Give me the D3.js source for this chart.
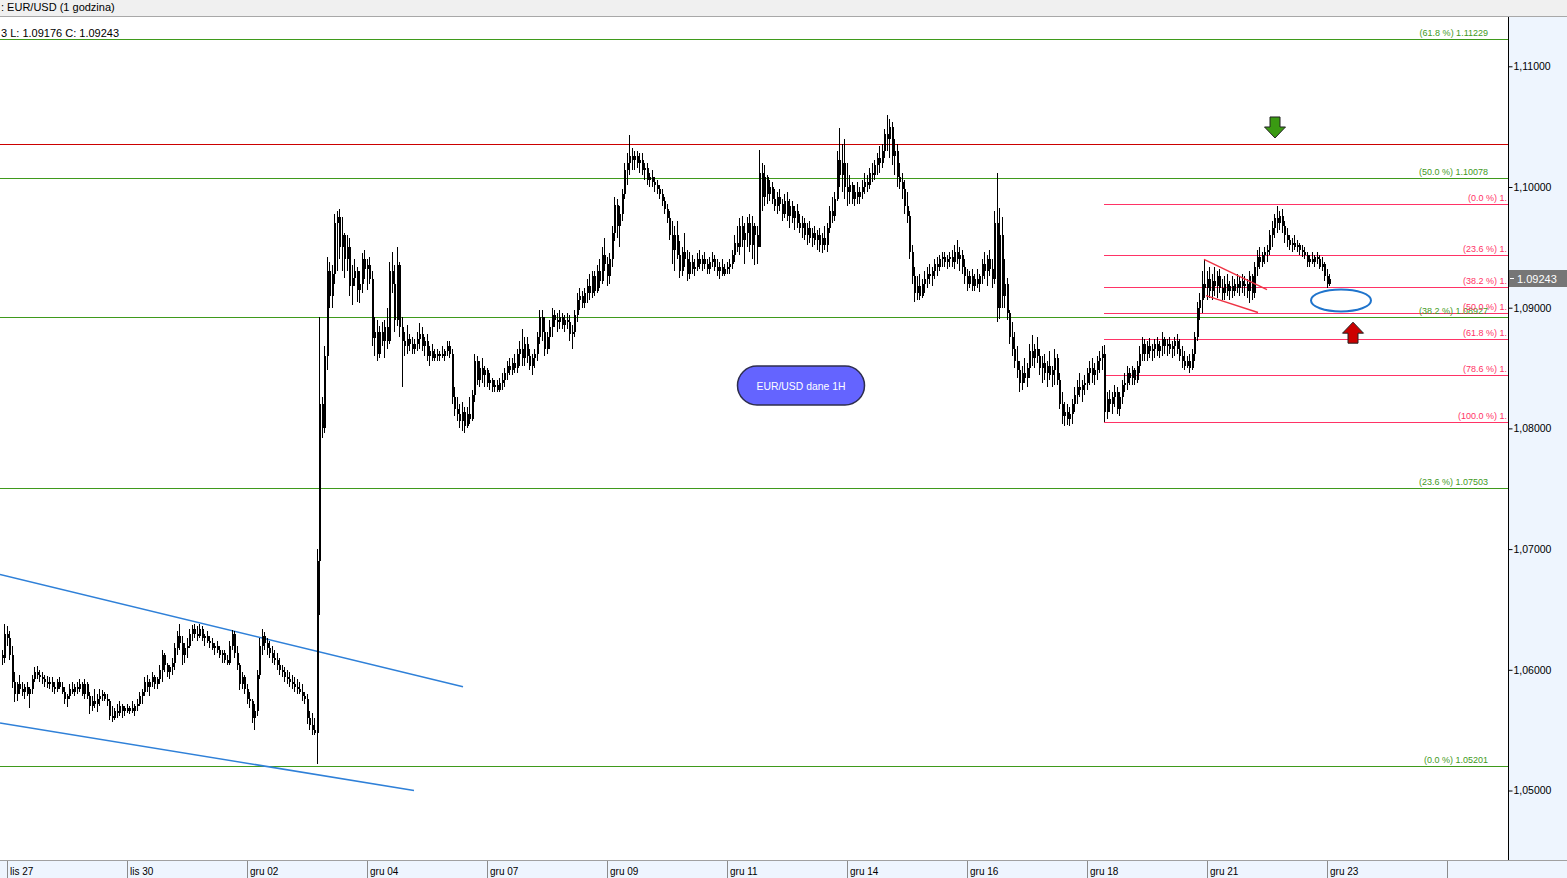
<!DOCTYPE html>
<html><head><meta charset="utf-8">
<script src="https://cdn.jsdelivr.net/npm/d3@7"></script>
<style>
body{margin:0;background:#fff;overflow:hidden}
svg{display:block;font-family:"Liberation Sans",Arial,sans-serif}
</style>
</head><body>
<svg id="c" width="1567" height="878"></svg>
<script>
// ---------- DATA (prices in 1/10000) ----------
const firstOpen = 10612;
const highs = [
10616,10638,10636,10632,10620,10598,10590,10596,10590,10588,
10590,10586,10596,10602,10603,10600,10598,10596,10595,10594,
10594,10590,10592,10594,10590,10586,10580,10588,10590,10588,
10590,10592,10590,10592,10590,10582,10578,10584,10580,10584,
10583,10582,10580,10576,10570,10568,10572,10574,10572,10570,
10572,10570,10574,10572,10576,10582,10584,10594,10596,10592,
10598,10596,10594,10604,10616,10614,10606,10604,10610,10622,
10632,10638,10628,10622,10626,10634,10637,10638,10636,10638,
10636,10630,10632,10628,10626,10622,10624,10620,10616,10616,
10612,10624,10633,10632,10620,10606,10598,10596,10588,10582,
10576,10572,10600,10626,10634,10631,10626,10624,10620,10616,
10614,10610,10604,10602,10600,10598,10596,10594,10592,10590,
10588,10582,10580,10566,10564,10560,10700,10892,10826,10868,
10942,10938,10935,10978,10980,10982,10975,10962,10960,10958,
10935,10940,10934,10930,10945,10948,10940,10942,10930,10892,
10890,10885,10888,10890,10900,10938,10946,10935,10950,10938,
10892,10880,10886,10878,10876,10874,10880,10887,10884,10876,
10878,10868,10870,10866,10866,10864,10868,10866,10872,10872,
10866,10834,10826,10820,10822,10818,10818,10826,10832,10862,
10860,10856,10858,10852,10850,10846,10842,10840,10840,10842,
10846,10850,10856,10858,10858,10862,10866,10872,10882,10876,
10876,10866,10862,10866,10880,10898,10898,10892,10880,10890,
10900,10898,10896,10898,10896,10894,10896,10894,10886,10898,
10912,10916,10914,10916,10924,10928,10930,10930,10935,10940,
10950,10958,10942,10945,10968,10992,10990,10984,10998,11020,
11028,11043,11032,11030,11030,11028,11028,11020,11020,11012,
11014,11008,11006,11002,10998,10992,10986,10980,10972,10968,
10972,10955,10950,10962,10948,10946,10944,10940,10945,10948,
10944,10946,10940,10942,10946,10944,10940,10938,10940,10936,
10938,10940,10948,10960,10968,10974,10976,10970,10975,10978,
10976,10970,10968,11031,11020,11018,11010,11006,11004,10998,
10996,10998,10990,10994,10996,10990,10988,10984,10986,10978,
10976,10974,10970,10972,10966,10968,10964,10966,10962,10968,
10970,10984,10992,10996,11030,11049,11036,11040,11020,11010,
11004,11002,11004,11000,11006,11012,11010,11016,11020,11022,
11028,11034,11036,11048,11060,11056,11054,11040,11036,11020,
11012,11006,10996,10980,10952,10934,10926,10928,10924,10930,
10934,10936,10934,10940,10942,10944,10946,10946,10944,10946,
10948,10952,10956,10950,10948,10940,10932,10930,10932,10928,
10932,10928,10940,10946,10944,10948,10940,10980,11012,10983,
10975,10940,10925,10898,10888,10880,10868,10856,10852,10858,
10854,10870,10877,10870,10876,10866,10860,10862,10856,10864,
10852,10866,10862,10846,10830,10822,10820,10818,10824,10834,
10840,10846,10840,10844,10850,10856,10858,10854,10860,10864,
10868,10869,10830,10832,10830,10836,10834,10830,10840,10846,
10852,10850,10852,10850,10856,10868,10876,10874,10872,10875,
10870,10874,10876,10872,10880,10876,10874,10876,10872,10876,
10878,10874,10868,10864,10860,10862,10866,10880,10905,10912,
10930,10940,10930,10934,10928,10934,10930,10932,10924,10926,
10928,10922,10926,10924,10928,10926,10928,10926,10924,10930,
10928,10938,10948,10950,10946,10950,10952,10964,10972,10978,
10984,10980,10982,10972,10966,10960,10958,10960,10956,10954,
10952,10950,10946,10944,10946,10944,10946,10944,10942,10938,
10932,10928];
const lows = [
10604,10606,10620,10608,10585,10573,10574,10580,10578,10576,
10578,10568,10580,10590,10592,10590,10588,10586,10585,10584,
10582,10580,10582,10584,10580,10572,10569,10576,10580,10578,
10580,10582,10578,10576,10576,10563,10566,10568,10565,10570,
10574,10574,10570,10558,10557,10558,10560,10562,10560,10562,
10564,10563,10564,10562,10566,10570,10572,10578,10582,10578,
10586,10584,10584,10588,10590,10598,10594,10592,10596,10600,
10612,10616,10604,10606,10610,10618,10624,10626,10624,10626,
10624,10620,10622,10618,10616,10612,10614,10610,10606,10606,
10604,10604,10616,10610,10600,10583,10584,10580,10572,10568,
10556,10550,10562,10592,10612,10616,10612,10610,10606,10604,
10600,10596,10594,10590,10588,10586,10584,10582,10580,10580,
10574,10572,10555,10550,10546,10546,10522,10645,10792,10796,
10848,10900,10900,10920,10930,10940,10930,10925,10930,10910,
10902,10918,10905,10904,10912,10924,10915,10920,10868,10860,
10856,10858,10868,10858,10866,10870,10912,10880,10885,10876,
10834,10860,10862,10864,10862,10862,10864,10866,10864,10860,
10856,10852,10856,10856,10856,10856,10858,10856,10860,10858,
10820,10810,10806,10800,10798,10796,10800,10804,10806,10822,
10836,10834,10838,10834,10834,10832,10830,10830,10830,10830,
10832,10834,10840,10844,10844,10846,10846,10852,10852,10852,
10854,10848,10844,10850,10856,10870,10872,10860,10862,10866,
10876,10884,10880,10882,10882,10880,10882,10872,10866,10876,
10888,10898,10900,10900,10904,10906,10908,10910,10912,10916,
10920,10930,10918,10920,10934,10955,10958,10950,10972,10990,
11002,11010,11014,11014,11016,11012,11010,11006,11002,11000,
11000,10996,10994,10990,10984,10978,10970,10956,10936,10930,
10940,10925,10926,10934,10922,10924,10928,10926,10930,10932,
10930,10932,10928,10928,10934,10930,10926,10924,10926,10926,
10928,10928,10932,10938,10946,10944,10950,10936,10950,10946,
10940,10935,10936,10950,10980,10984,10986,10988,10986,10980,
10978,10980,10972,10974,10972,10966,10970,10964,10966,10962,
10958,10956,10952,10954,10950,10952,10948,10946,10945,10948,
10946,10962,10970,10972,10988,11000,10996,10990,10984,10986,
10986,10984,10986,10986,10990,10994,10996,10998,11004,11006,
11010,11012,11016,11024,11030,11024,11018,11010,11000,10998,
10990,10978,10970,10940,10920,10905,10906,10906,10908,10912,
10916,10920,10918,10924,10926,10930,10934,10934,10932,10934,
10934,10932,10936,10930,10928,10920,10914,10916,10914,10914,
10916,10913,10920,10924,10918,10926,10916,10920,10888,10891,
10900,10900,10890,10870,10860,10850,10842,10830,10832,10838,
10834,10842,10852,10850,10854,10844,10838,10840,10834,10840,
10834,10836,10836,10816,10804,10802,10803,10802,10804,10814,
10820,10826,10822,10828,10832,10836,10838,10836,10840,10846,
10848,10805,10808,10814,10812,10818,10812,10810,10820,10830,
10832,10836,10836,10836,10838,10846,10856,10856,10856,10858,
10856,10858,10860,10858,10860,10862,10860,10862,10858,10860,
10862,10856,10850,10848,10850,10846,10848,10856,10872,10890,
10896,10908,10906,10908,10906,10910,10908,10912,10906,10906,
10910,10906,10908,10910,10912,10910,10912,10910,10908,10904,
10906,10908,10926,10932,10934,10936,10938,10944,10950,10958,
10962,10964,10962,10954,10950,10948,10946,10948,10946,10944,
10942,10940,10934,10934,10936,10934,10936,10932,10930,10922,
10916,10918];
const closes = [
10610,10630,10626,10612,10590,10580,10588,10584,10582,10586,
10580,10584,10592,10598,10596,10594,10592,10590,10588,10590,
10586,10584,10590,10586,10582,10576,10578,10584,10582,10586,
10584,10588,10580,10588,10578,10570,10574,10572,10576,10578,
10580,10576,10574,10562,10560,10566,10564,10570,10566,10568,
10566,10568,10566,10570,10572,10578,10582,10590,10586,10590,
10594,10588,10592,10600,10612,10604,10598,10602,10606,10618,
10628,10622,10612,10618,10620,10630,10634,10630,10628,10634,
10626,10628,10624,10622,10618,10620,10616,10612,10614,10608,
10606,10620,10630,10614,10604,10588,10594,10584,10576,10574,
10560,10566,10596,10620,10628,10622,10618,10614,10610,10608,
10604,10600,10598,10594,10592,10590,10588,10586,10584,10582,
10578,10576,10560,10554,10550,10548,10690,10820,10800,10860,
10930,10910,10928,10970,10975,10950,10960,10940,10950,10918,
10925,10930,10915,10920,10940,10932,10935,10924,10875,10880,
10862,10880,10872,10884,10872,10930,10920,10890,10935,10884,
10872,10868,10874,10870,10866,10870,10874,10878,10868,10872,
10860,10864,10858,10862,10860,10862,10860,10864,10868,10862,
10826,10816,10812,10806,10814,10802,10812,10808,10828,10856,
10840,10850,10844,10848,10838,10840,10834,10836,10832,10838,
10840,10846,10852,10848,10854,10850,10862,10866,10858,10870,
10860,10852,10858,10862,10876,10892,10880,10866,10876,10884,
10894,10890,10888,10892,10886,10890,10888,10878,10880,10894,
10906,10910,10904,10912,10918,10912,10926,10914,10930,10922,
10944,10936,10926,10940,10962,10985,10968,10978,10994,11014,
11020,11026,11022,11026,11020,11022,11014,11016,11006,11008,
11004,11002,10998,10994,10988,10982,10974,10960,10948,10960,
10944,10930,10946,10940,10928,10938,10932,10934,10940,10936,
10940,10936,10932,10938,10940,10934,10930,10934,10928,10932,
10934,10936,10944,10954,10950,10968,10956,10962,10970,10952,
10968,10960,10950,11012,10992,11008,10994,11000,10990,10984,
10992,10986,10978,10988,10976,10984,10974,10980,10970,10966,
10970,10960,10966,10958,10962,10956,10960,10952,10958,10952,
10966,10980,10976,10990,11022,11010,11020,11000,10996,11002,
10990,10996,10992,10996,11000,11004,11002,11012,11010,11018,
11024,11020,11030,11044,11040,11050,11026,11030,11008,11004,
10998,10984,10976,10946,10926,10912,10918,10910,10920,10924,
10928,10926,10930,10936,10934,10940,10942,10938,10940,10942,
10938,10946,10940,10944,10934,10926,10920,10926,10918,10924,
10920,10926,10936,10930,10940,10932,10924,10970,10900,10960,
10910,10920,10896,10876,10866,10856,10848,10838,10846,10842,
10850,10864,10858,10866,10860,10850,10854,10846,10852,10844,
10848,10858,10840,10820,10810,10814,10808,10812,10820,10828,
10834,10832,10836,10838,10846,10850,10844,10848,10856,10858,
10862,10814,10824,10820,10826,10830,10816,10826,10836,10838,
10846,10842,10848,10840,10852,10862,10870,10862,10868,10864,
10866,10870,10864,10868,10874,10868,10870,10866,10868,10872,
10866,10860,10856,10852,10856,10850,10862,10876,10900,10906,
10920,10916,10924,10914,10922,10918,10926,10916,10912,10920,
10914,10918,10914,10920,10916,10922,10918,10920,10914,10926,
10912,10934,10942,10938,10944,10946,10948,10960,10966,10974,
10970,10976,10968,10960,10956,10952,10954,10950,10952,10948,
10946,10944,10938,10940,10938,10942,10940,10934,10936,10926,
10920,10924];

const yTickValues = [1.05, 1.06, 1.07, 1.08, 1.09, 1.10, 1.11];
const dateTickIdx = [2, 50, 98, 146, 194, 242, 290, 338, 386, 434, 482, 530, 578];
const dateLabels = ["lis 27","lis 30","gru 02","gru 04","gru 07","gru 09","gru 11","gru 14","gru 16","gru 18","gru 21","gru 23",""];

const greenFibPct  = ["61.8","50.0","38.2","23.6","0.0"];
const greenFibVals = [1.11229, 1.10078, 1.08927, 1.07503, 1.05201];
const pinkFibPct   = ["0.0","23.6","38.2","50.0","61.8","78.6","100.0"];
const pinkFibVals  = [1.09859, 1.09433, 1.09169, 1.08956, 1.08743, 1.08439, 1.08053];
const pinkFibStartIdx = 441;
const resistance = 1.10356;
const lastPrice = 1.09243;
// trend lines: [idx1, price1, idx2, price2]
const channelUpper = [-0.6, 1.0679, 184.6, 1.0586];
const channelLower = [-0.6, 1.0556, 165.0, 1.0500];
const wedgeUpper = [481.0, 1.0940, 506.2, 1.0915];
const wedgeLower = [481.8, 1.0910, 502.6, 1.0896];
const ellipsePos = [535.8, 1.0906];
const greenArrowPos = [509.4, 1.1058];
const redArrowPos = [540.6, 1.0888];
const noteBoxPos = [319.8, 1.08355];
const noteText = "EUR/USD dane 1H";
const headerTitle = ": EUR/USD (1 godzina)";
const headerOHLC = "3 L: 1.09176 C: 1.09243";

// ---------- LAYOUT ----------
const W = 1567, H = 878;
const plotRight = 1508, plotTop = 17, plotBottom = 860;
const svg = d3.select("#c");

const n = Math.min(highs.length, lows.length, closes.length);
const bars = d3.range(n).map(i => ({
  i, h: highs[i] / 1e4, l: lows[i] / 1e4, c: closes[i] / 1e4,
  o: (i === 0 ? firstOpen : closes[i - 1]) / 1e4
}));

const x = d3.scaleLinear().domain([0, 1]).range([1.5, 4]);
const y = d3.scaleLinear().domain([1.05, 1.11]).range([790.5, 66.3]);

// backgrounds
svg.append("rect").attr("width", W).attr("height", H).attr("fill", "#fff");
svg.append("rect").attr("x", 0).attr("y", 0).attr("width", W).attr("height", 16).attr("fill", "#f0f0f0");
svg.append("line").attr("x1", 0).attr("x2", W).attr("y1", 16.5).attr("y2", 16.5).attr("stroke", "#a8a8a8");
svg.append("text").attr("x", 1).attr("y", 11).attr("font-size", 11).attr("fill", "#000").text(headerTitle);

svg.append("rect").attr("x", plotRight).attr("y", 17).attr("width", W - plotRight).attr("height", plotBottom - 17).attr("fill", "#eef5fe");
svg.append("rect").attr("x", 0).attr("y", plotBottom).attr("width", W).attr("height", H - plotBottom).attr("fill", "#eef5fe");

const defs = svg.append("defs");
defs.append("clipPath").attr("id", "plotClip").append("rect")
  .attr("x", 0).attr("y", plotTop).attr("width", plotRight).attr("height", plotBottom - plotTop);

const plot = svg.append("g").attr("clip-path", "url(#plotClip)");

svg.append("text").attr("x", 1).attr("y", 37).attr("font-size", 11)
  .attr("fill", "#000").text(headerOHLC);

// green fib lines
const greenCol = "#3f9a1c";
greenFibVals.forEach((v, k) => {
  plot.append("line").attr("x1", 0).attr("x2", plotRight)
    .attr("y1", Math.round(y(v)) + 0.5).attr("y2", Math.round(y(v)) + 0.5)
    .attr("stroke", greenCol).attr("stroke-width", 1).attr("shape-rendering", "crispEdges");
});
// resistance
plot.append("line").attr("x1", 0).attr("x2", plotRight)
  .attr("y1", Math.round(y(resistance)) + 0.5).attr("y2", Math.round(y(resistance)) + 0.5)
  .attr("stroke", "#cc0000").attr("shape-rendering", "crispEdges");

// pink fib lines
const pinkCol = "#ff3366";
pinkFibVals.forEach(v => {
  plot.append("line").attr("x1", x(pinkFibStartIdx)).attr("x2", plotRight)
    .attr("y1", Math.round(y(v)) + 0.5).attr("y2", Math.round(y(v)) + 0.5)
    .attr("stroke", pinkCol).attr("stroke-width", 1).attr("shape-rendering", "crispEdges");
});

// channel lines
[channelUpper, channelLower].forEach(s => {
  plot.append("line").attr("x1", x(s[0])).attr("y1", y(s[1])).attr("x2", x(s[2])).attr("y2", y(s[3]))
    .attr("stroke", "#2f80d8").attr("stroke-width", 1.5);
});

// candles
const cg = plot.append("g").attr("shape-rendering", "crispEdges");
bars.forEach(b => {
  const px = Math.round(x(b.i));
  cg.append("line").attr("x1", px + 0.5).attr("x2", px + 0.5)
    .attr("y1", y(b.h)).attr("y2", y(b.l)).attr("stroke", "#000").attr("stroke-width", 1);
  const top = y(Math.max(b.o, b.c)), bot = y(Math.min(b.o, b.c));
  cg.append("rect").attr("x", px).attr("width", 2)
    .attr("y", top).attr("height", Math.max(1, bot - top)).attr("fill", "#000");
});

// wedge lines
[wedgeUpper, wedgeLower].forEach(s => {
  plot.append("line").attr("x1", x(s[0])).attr("y1", y(s[1])).attr("x2", x(s[2])).attr("y2", y(s[3]))
    .attr("stroke", "#ee3344").attr("stroke-width", 1.4);
});

// ellipse
plot.append("ellipse").attr("cx", x(ellipsePos[0])).attr("cy", y(ellipsePos[1]))
  .attr("rx", 30).attr("ry", 11).attr("fill", "none").attr("stroke", "#1f74cc").attr("stroke-width", 2);

// arrows
function arrow(cx, tip, dir, fill) {
  const hh = 11, sh = 10, hw = 10.5, sw = 5;
  const base = tip - dir * hh, end = tip - dir * (hh + sh);
  const pts = [[cx, tip], [cx + hw, base], [cx + sw, base], [cx + sw, end], [cx - sw, end], [cx - sw, base], [cx - hw, base]];
  plot.append("path").attr("d", "M" + pts.map(p => p.join(",")).join("L") + "Z")
    .attr("fill", fill).attr("stroke", "#222").attr("stroke-width", 1);
}
arrow(x(greenArrowPos[0]), y(greenArrowPos[1]) + 21, 1, "#3a9a12");
arrow(x(redArrowPos[0]), y(redArrowPos[1]), -1, "#cc0000");

// note box
const nbx = x(noteBoxPos[0]), nby = y(noteBoxPos[1]);
plot.append("rect").attr("x", nbx - 63.5).attr("y", nby - 19.5).attr("width", 127).attr("height", 39)
  .attr("rx", 19.5).attr("fill", "#6464ff").attr("stroke", "#2e2e4e").attr("stroke-width", 1.5);
plot.append("text").attr("x", nbx).attr("y", nby + 4).attr("text-anchor", "middle")
  .attr("font-size", 10.4).attr("fill", "#fff").text(noteText);

// fib labels (pink ones are shown truncated at the price axis, as in the source)
const lg = svg.append("g").attr("font-size", 9);
greenFibVals.forEach((v, k) => {
  lg.append("text").attr("x", 1488).attr("y", Math.round(y(v)) - 3).attr("text-anchor", "end")
    .attr("fill", greenCol).text("(" + greenFibPct[k] + " %) " + v.toFixed(5));
});
pinkFibVals.forEach((v, k) => {
  lg.append("text").attr("x", 1507).attr("y", Math.round(y(v)) - 3).attr("text-anchor", "end")
    .attr("fill", pinkCol).text("(" + pinkFibPct[k] + " %) " + v.toFixed(5).slice(0, 2));
});

// right axis
const fmt = d3.format(".5f");
const yAxis = d3.axisRight(y).tickValues(yTickValues).tickSize(4).tickPadding(1)
  .tickFormat(d => fmt(d).replace(".", ","));
const ya = svg.append("g").attr("transform", `translate(${plotRight + 0.5},0)`).call(yAxis);
ya.select(".domain").remove();
ya.selectAll("text").attr("font-size", 10.5).attr("fill", "#000")
  .attr("font-family", '"Liberation Sans",Arial,sans-serif');
ya.selectAll("line").attr("stroke", "#000");
svg.append("line").attr("x1", plotRight + 0.5).attr("x2", plotRight + 0.5).attr("y1", 17).attr("y2", plotBottom)
  .attr("stroke", "#000");

// current price tag
const ly = Math.round(y(lastPrice));
svg.append("rect").attr("x", plotRight + 1).attr("y", ly - 8).attr("width", W - plotRight - 1).attr("height", 17).attr("fill", "#767676");
svg.append("line").attr("x1", plotRight + 2).attr("x2", plotRight + 6).attr("y1", ly + 0.5).attr("y2", ly + 0.5).attr("stroke", "#fff");
svg.append("text").attr("x", plotRight + 9).attr("y", ly + 4.5).attr("font-size", 11).attr("fill", "#fff")
  .text(lastPrice.toFixed(5));

// bottom axis
svg.append("line").attr("x1", 0).attr("x2", W).attr("y1", plotBottom + 0.5).attr("y2", plotBottom + 0.5).attr("stroke", "#a0a0a0");
const xg = svg.append("g");
dateTickIdx.forEach((ix, k) => {
  const tx = Math.round(x(ix)) + 0.5;
  xg.append("line").attr("x1", tx).attr("x2", tx).attr("y1", plotBottom + 1).attr("y2", H).attr("stroke", "#8c8c8c");
  xg.append("text").attr("x", tx + 2.5).attr("y", 875).attr("font-size", 10).attr("fill", "#000").text(dateLabels[k]);
});
</script>
</body></html>
